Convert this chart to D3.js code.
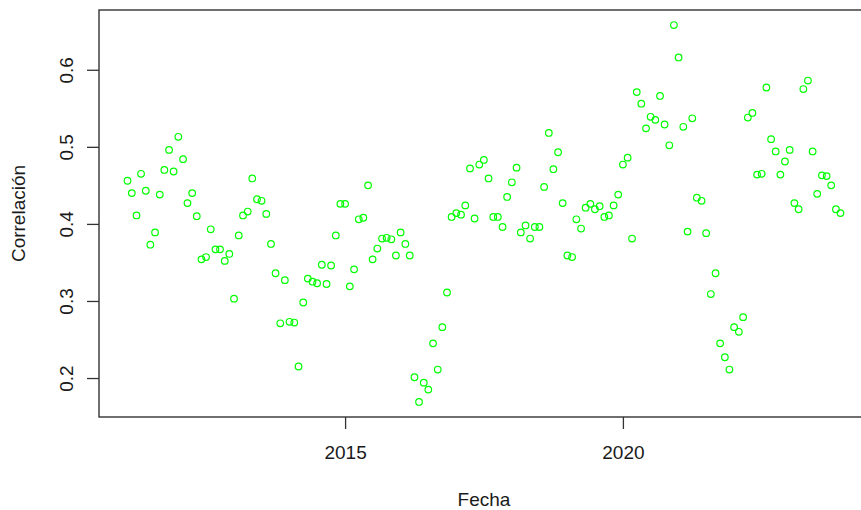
<!DOCTYPE html>
<html>
<head>
<meta charset="utf-8">
<script src="https://cdn.jsdelivr.net/npm/d3@7"></script>
<style>
  body { margin: 0; background: #fff; }
  svg { display: block; font-family: "Liberation Sans", Arial, sans-serif; }
</style>
</head>
<body>
<div id="chart"></div>
<script>
// monthly correlation values, one array per year (2011 starts in February)
var corr2011 = [0.456, 0.440, 0.411, 0.465, 0.443, 0.373, 0.389, 0.438, 0.470, 0.496, 0.468];
var corr2012 = [0.513, 0.484, 0.427, 0.440, 0.410, 0.354, 0.357, 0.393, 0.367, 0.367, 0.352, 0.361];
var corr2013 = [0.303, 0.385, 0.411, 0.416, 0.459, 0.432, 0.430, 0.413, 0.374, 0.336, 0.271, 0.327];
var corr2014 = [0.273, 0.272, 0.215, 0.298, 0.329, 0.325, 0.323, 0.347, 0.322, 0.346, 0.385, 0.426];
var corr2015 = [0.426, 0.319, 0.341, 0.406, 0.408, 0.450, 0.354, 0.368, 0.381, 0.382, 0.380, 0.359];
var corr2016 = [0.389, 0.374, 0.359, 0.201, 0.169, 0.194, 0.185, 0.245, 0.211, 0.266, 0.311, 0.409];
var corr2017 = [0.414, 0.412, 0.424, 0.472, 0.407, 0.477, 0.483, 0.459, 0.409, 0.409, 0.396, 0.435];
var corr2018 = [0.454, 0.473, 0.389, 0.398, 0.381, 0.396, 0.396, 0.448, 0.518, 0.471, 0.493, 0.427];
var corr2019 = [0.359, 0.357, 0.406, 0.394, 0.421, 0.426, 0.419, 0.423, 0.409, 0.411, 0.424, 0.438];
var corr2020 = [0.477, 0.486, 0.381, 0.571, 0.556, 0.524, 0.539, 0.535, 0.566, 0.529, 0.502, 0.658];
var corr2021 = [0.616, 0.526, 0.390, 0.537, 0.434, 0.430, 0.388, 0.309, 0.336, 0.245, 0.227, 0.211];
var corr2022 = [0.266, 0.260, 0.279, 0.538, 0.544, 0.464, 0.465, 0.577, 0.510, 0.494, 0.464, 0.481];
var corr2023 = [0.496, 0.427, 0.419, 0.575, 0.586, 0.494, 0.439, 0.463, 0.462, 0.450, 0.419, 0.414];

var firstMonth = new Date(Date.UTC(2011, 1, 1));
var xTickYears = [2015, 2020];
var yTickValues = [0.2, 0.3, 0.4, 0.5, 0.6];
var xLabel = "Fecha";
var yLabel = "Correlación";

var values = [].concat(corr2011, corr2012, corr2013, corr2014, corr2015, corr2016,
	corr2017, corr2018, corr2019, corr2020, corr2021, corr2022, corr2023);
var data = values.map(function (v, i) {
	return { date: d3.utcMonth.offset(firstMonth, i), value: v };
});

var width = 861, height = 510;
// plot box (right side runs past the picture, like the cropped original)
var box = { left: 99, right: 869, top: 10, bottom: 417 };

var svg = d3.select("#chart").append("svg")
	.attr("width", width)
	.attr("height", height);

// R style 4% padding on both axes
var xExt = d3.extent(data, function (d) { return +d.date; });
var xPad = (xExt[1] - xExt[0]) * 0.04;
var x = d3.scaleUtc()
	.domain([new Date(xExt[0] - xPad), new Date(xExt[1] + xPad)])
	.range([box.left, box.right]);

var yExt = d3.extent(data, function (d) { return d.value; });
var yPad = (yExt[1] - yExt[0]) * 0.04;
var y = d3.scaleLinear()
	.domain([yExt[0] - yPad, yExt[1] + yPad])
	.range([box.bottom, box.top]);

var axisColor = "#333";

// y axis, labels parallel to the axis
var gy = svg.append("g")
	.attr("transform", "translate(" + box.left + ",0)")
	.call(d3.axisLeft(y).tickValues(yTickValues).tickSize(12).tickFormat(d3.format(".1f")));
gy.select(".domain").remove();
gy.selectAll(".tick line").attr("stroke", axisColor).attr("stroke-width", 1.3);
gy.selectAll(".tick text")
	.attr("x", null)
	.attr("dy", null)
	.attr("transform", "translate(-26,0) rotate(-90)")
	.attr("text-anchor", "middle")
	.attr("fill", "#1a1a1a")
	.style("font-size", "19px");

// x axis
var gx = svg.append("g")
	.attr("transform", "translate(0," + box.bottom + ")")
	.call(d3.axisBottom(x)
		.tickValues(xTickYears.map(function (yr) { return new Date(Date.UTC(yr, 0, 1)); }))
		.tickSize(12)
		.tickFormat(d3.utcFormat("%Y")));
gx.select(".domain").remove();
gx.selectAll(".tick line").attr("stroke", axisColor).attr("stroke-width", 1.3);
gx.selectAll(".tick text")
	.attr("y", 42)
	.attr("dy", null)
	.attr("fill", "#1a1a1a")
	.style("font-size", "19px");

// box
svg.append("rect")
	.attr("x", box.left)
	.attr("y", box.top)
	.attr("width", box.right - box.left)
	.attr("height", box.bottom - box.top)
	.attr("fill", "none")
	.attr("stroke", axisColor)
	.attr("stroke-width", 1.4);

// axis titles
svg.append("text")
	.attr("x", (box.left + box.right) / 2)
	.attr("y", 506)
	.attr("text-anchor", "middle")
	.attr("fill", "#1a1a1a")
	.style("font-size", "19px")
	.text(xLabel);

svg.append("text")
	.attr("transform", "translate(25," + (box.top + box.bottom) / 2 + ") rotate(-90)")
	.attr("text-anchor", "middle")
	.attr("fill", "#1a1a1a")
	.style("font-size", "19px")
	.text(yLabel);

// points
svg.append("g").selectAll("circle")
	.data(data)
	.enter().append("circle")
	.attr("cx", function (d) { return x(d.date); })
	.attr("cy", function (d) { return y(d.value); })
	.attr("r", 3.3)
	.attr("fill", "none")
	.attr("stroke", "#00ff00")
	.attr("stroke-width", 1.2);
</script>
</body>
</html>
